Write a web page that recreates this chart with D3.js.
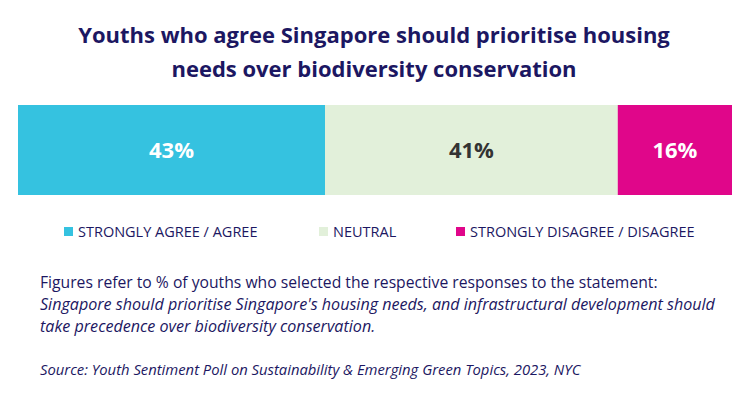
<!DOCTYPE html>
<html>
<head>
<meta charset="utf-8">
<script src="https://cdn.jsdelivr.net/npm/d3@7"></script>
<style>
  body { margin: 0; background: #fff; }
  svg { display: block; font-family: "Open Sans", sans-serif; }
</style>
</head>
<body>
<svg width="750" height="394"></svg>
<script>
// data
var categories = ["STRONGLY AGREE / AGREE", "NEUTRAL", "STRONGLY DISAGREE / DISAGREE"];
var values = [43, 41, 16];
var colors = ["#35c2e0", "#e2f0da", "#e0068a"];
var labelColors = ["#ffffff", "#333333", "#ffffff"];
var titleLines = ["Youths who agree Singapore should prioritise housing",
                  "needs over biodiversity conservation"];
var noteLine = "Figures refer to % of youths who selected the respective responses to the statement:";
var statementLines = ["Singapore should prioritise Singapore's housing needs, and infrastructural development should",
                      "take precedence over biodiversity conservation."];
var sourceLine = "Source: Youth Sentiment Poll on Sustainability & Emerging Green Topics, 2023, NYC";

var navy = "#1c1762";
var svg = d3.select("svg");

// title
svg.selectAll(".title").data(titleLines).enter().append("text")
    .attr("class", "title")
    .attr("x", 374)
    .attr("y", function(d, i) { return 43 + i * 34; })
    .attr("text-anchor", "middle")
    .attr("font-size", 22)
    .attr("font-weight", 700)
    .attr("fill", navy)
    .text(function(d) { return d; });

// stacked bar
var x = d3.scaleLinear().domain([0, 100]).range([18, 732]);
var y = d3.scaleBand().domain(["all"]).range([105, 195]);
var starts = [];
var acc = 0;
values.forEach(function(v) { starts.push(acc); acc += v; });

var seg = svg.selectAll(".seg").data(values).enter().append("g").attr("class", "seg");
seg.append("rect")
    .attr("x", function(d, i) { return x(starts[i]); })
    .attr("y", y("all"))
    .attr("width", function(d, i) { return x(starts[i] + d) - x(starts[i]); })
    .attr("height", y.bandwidth())
    .attr("fill", function(d, i) { return colors[i]; });
seg.append("text")
    .attr("x", function(d, i) { return x(starts[i] + d / 2); })
    .attr("y", y("all") + y.bandwidth() / 2 + 8)
    .attr("text-anchor", "middle")
    .attr("font-size", 22)
    .attr("font-weight", 700)
    .attr("fill", function(d, i) { return labelColors[i]; })
    .text(function(d) { return d + "%"; });

// legend
var legendX = [64, 319, 456];
var leg = svg.selectAll(".leg").data(categories).enter().append("g")
    .attr("class", "leg")
    .attr("transform", function(d, i) { return "translate(" + legendX[i] + ",227)"; });
leg.append("rect").attr("width", 9).attr("height", 9)
    .attr("fill", function(d, i) { return colors[i]; });
leg.append("text")
    .attr("x", 14).attr("y", 10)
    .attr("font-size", 14.5)
    .attr("fill", navy)
    .text(function(d) { return d; });

// notes
svg.append("text").attr("x", 40).attr("y", 288)
    .attr("font-size", 15.7).attr("fill", navy).text(noteLine);
svg.selectAll(".stmt").data(statementLines).enter().append("text")
    .attr("class", "stmt")
    .attr("x", 40)
    .attr("y", function(d, i) { return 310 + i * 22; })
    .attr("font-size", 16.1)
    .attr("font-style", "italic")
    .attr("fill", navy)
    .text(function(d) { return d; });
svg.append("text").attr("x", 40).attr("y", 375)
    .attr("font-size", 14.8).attr("font-style", "italic")
    .attr("fill", navy).text(sourceLine);
</script>
</body>
</html>
